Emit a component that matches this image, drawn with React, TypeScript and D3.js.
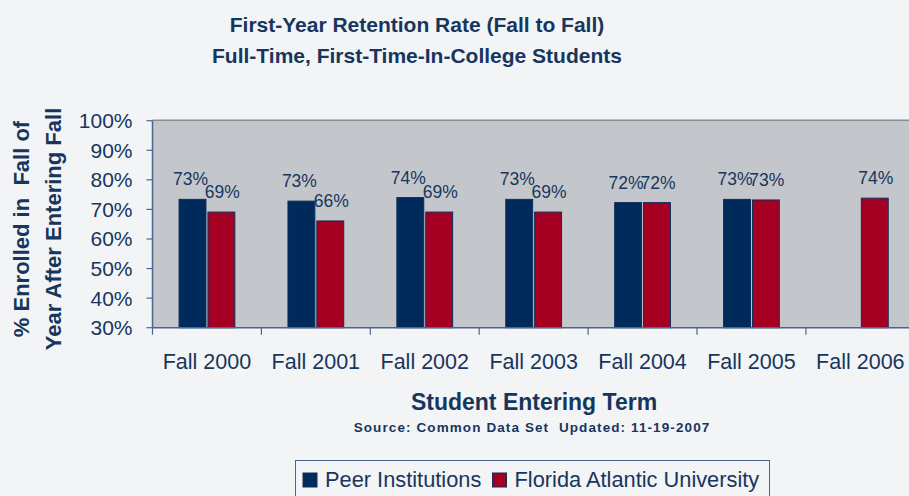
import React from "react";
import * as d3 from "d3";

const categories = ["Fall 2000", "Fall 2001", "Fall 2002", "Fall 2003", "Fall 2004", "Fall 2005", "Fall 2006"];
const seriesNames = ["Peer Institutions", "Florida Atlantic University"];
const peerValues: (number | null)[] = [0.734, 0.728, 0.740, 0.734, 0.723, 0.734, null];
const fauValues: (number | null)[] = [0.691, 0.661, 0.691, 0.691, 0.723, 0.732, 0.738];
const yTicks = [0.3, 0.4, 0.5, 0.6, 0.7, 0.8, 0.9, 1.0];
const titleLines = ["First-Year Retention Rate (Fall to Fall)", "Full-Time, First-Time-In-College Students"];
const yTitleLines = ["% Enrolled in  Fall of", "Year After Entering Fall"];
const xTitle = "Student Entering Term";
const sourceText = "Source: Common Data Set  Updated: 11-19-2007";

const W = 909;
const H = 496;
const FONT = "'Liberation Sans', Arial, Helvetica, sans-serif";
const TEXT = "#17365d";
const BG = "#f3f4f6";
const PLOT_BG = "#c3c7cb";
const COLORS = ["#002a5c", "#a50021"];

export default function App() {
  const plot = { left: 152.5, right: 914.8, top: 120.7, bottom: 327.7 };
  const x = d3.scaleBand<string>().domain(categories).range([plot.left, plot.right]).padding(0);
  const bw = x.bandwidth();
  const inner = d3
    .scaleBand<string>()
    .domain(seriesNames)
    .range([0, bw])
    .paddingInner(0.069)
    .paddingOuter(0.92);
  const y = d3.scaleLinear().domain([0.3, 1.0]).range([plot.bottom, plot.top]);
  const data = [peerValues, fauValues];
  const pct = d3.format(".0%");

  return (
    <div style={{ position: "absolute", left: 0, top: 0, width: W, height: H, background: BG }}>
      <svg width={W} height={H} style={{ display: "block" }} fontFamily={FONT}>
        <rect x={0} y={0} width={W} height={H} fill={BG} />
        {titleLines.map((t, i) => (
          <text key={t} x={417} y={32 + i * 31} textAnchor="middle" fontSize={21} fontWeight="bold" fill={TEXT}>
            {t}
          </text>
        ))}
        <rect
          x={plot.left}
          y={plot.top}
          width={plot.right - plot.left}
          height={plot.bottom - plot.top}
          fill={PLOT_BG}
        />
        <line x1={plot.left} x2={plot.right} y1={plot.top - 0.5} y2={plot.top - 0.5} stroke="#8a8d90" strokeWidth={1.5} />
        {/* y axis */}
        <line x1={plot.left} x2={plot.left} y1={plot.top} y2={plot.bottom} stroke="#4a6590" strokeWidth={1.5} />
        {yTicks.map((t) => (
          <g key={t}>
            <line x1={plot.left - 6} x2={plot.left} y1={y(t)} y2={y(t)} stroke="#4a6590" strokeWidth={1.2} />
            <text x={plot.left - 20} y={y(t) + 7.5} textAnchor="end" fontSize={21} fill={TEXT}>
              {pct(t)}
            </text>
          </g>
        ))}
        {/* bars */}
        {categories.map((c, ci) => (
          <g key={c}>
            {seriesNames.map((s, si) => {
              const v = data[si][ci];
              if (v == null) return null;
              const bx = (x(c) as number) + (inner(s) as number);
              const by = y(v);
              return (
                <g key={s}>
                  <rect
                    x={bx}
                    y={by}
                    width={inner.bandwidth()}
                    height={plot.bottom - by}
                    fill={COLORS[si]}
                    stroke="#0f2d5a"
                    strokeWidth={1}
                  />
                  <text
                    x={bx + inner.bandwidth() / 2 - (si === 0 ? 2 : -1)}
                    y={by - 14}
                    textAnchor="middle"
                    fontSize={17.5}
                    fill={TEXT}
                  >
                    {pct(Math.round(v * 100) / 100)}
                  </text>
                </g>
              );
            })}
          </g>
        ))}
        {/* x axis */}
        <line x1={plot.left} x2={plot.right} y1={plot.bottom} y2={plot.bottom} stroke="#4a6590" strokeWidth={1.5} />
        {categories.map((c) => (
          <line
            key={"t" + c}
            x1={x(c) as number}
            x2={x(c) as number}
            y1={plot.bottom}
            y2={plot.bottom + 7}
            stroke="#4a6590"
            strokeWidth={1.2}
          />
        ))}
        {categories.map((c) => (
          <text key={"l" + c} x={(x(c) as number) + bw / 2} y={369} textAnchor="middle" fontSize={21.5} fill={TEXT}>
            {c}
          </text>
        ))}
        <text x={534} y={410} textAnchor="middle" fontSize={23} fontWeight="bold" fill={TEXT}>
          {xTitle}
        </text>
        <text
          x={532}
          y={432}
          textAnchor="middle"
          fontSize={13.5}
          fontWeight="bold"
          fill={TEXT}
          letterSpacing={1.1}
          xmlSpace="preserve"
          style={{ whiteSpace: "pre" }}
        >
          {sourceText}
        </text>
        {/* y title */}
        {yTitleLines.map((t, i) => (
          <text
            key={t}
            transform={`translate(${29 + i * 32},${229}) rotate(-90)`}
            textAnchor="middle"
            fontSize={22}
            fontWeight="bold"
            fill={TEXT}
            xmlSpace="preserve"
            style={{ whiteSpace: "pre" }}
          >
            {t}
          </text>
        ))}
        {/* legend */}
        <rect x={295.5} y={460.5} width={474} height={40} fill={BG} stroke="#4a6590" strokeWidth={1} />
        {seriesNames.map((s, i) => {
          const lx = i === 0 ? 303 : 492.5;
          return (
            <g key={s}>
              <rect x={lx} y={473} width={14} height={14} fill={COLORS[i]} stroke="#0f2d5a" strokeWidth={1} />
              <text x={lx + 22} y={487} fontSize={21.8} fill={TEXT}>
                {s}
              </text>
            </g>
          );
        })}
      </svg>
    </div>
  );
}
